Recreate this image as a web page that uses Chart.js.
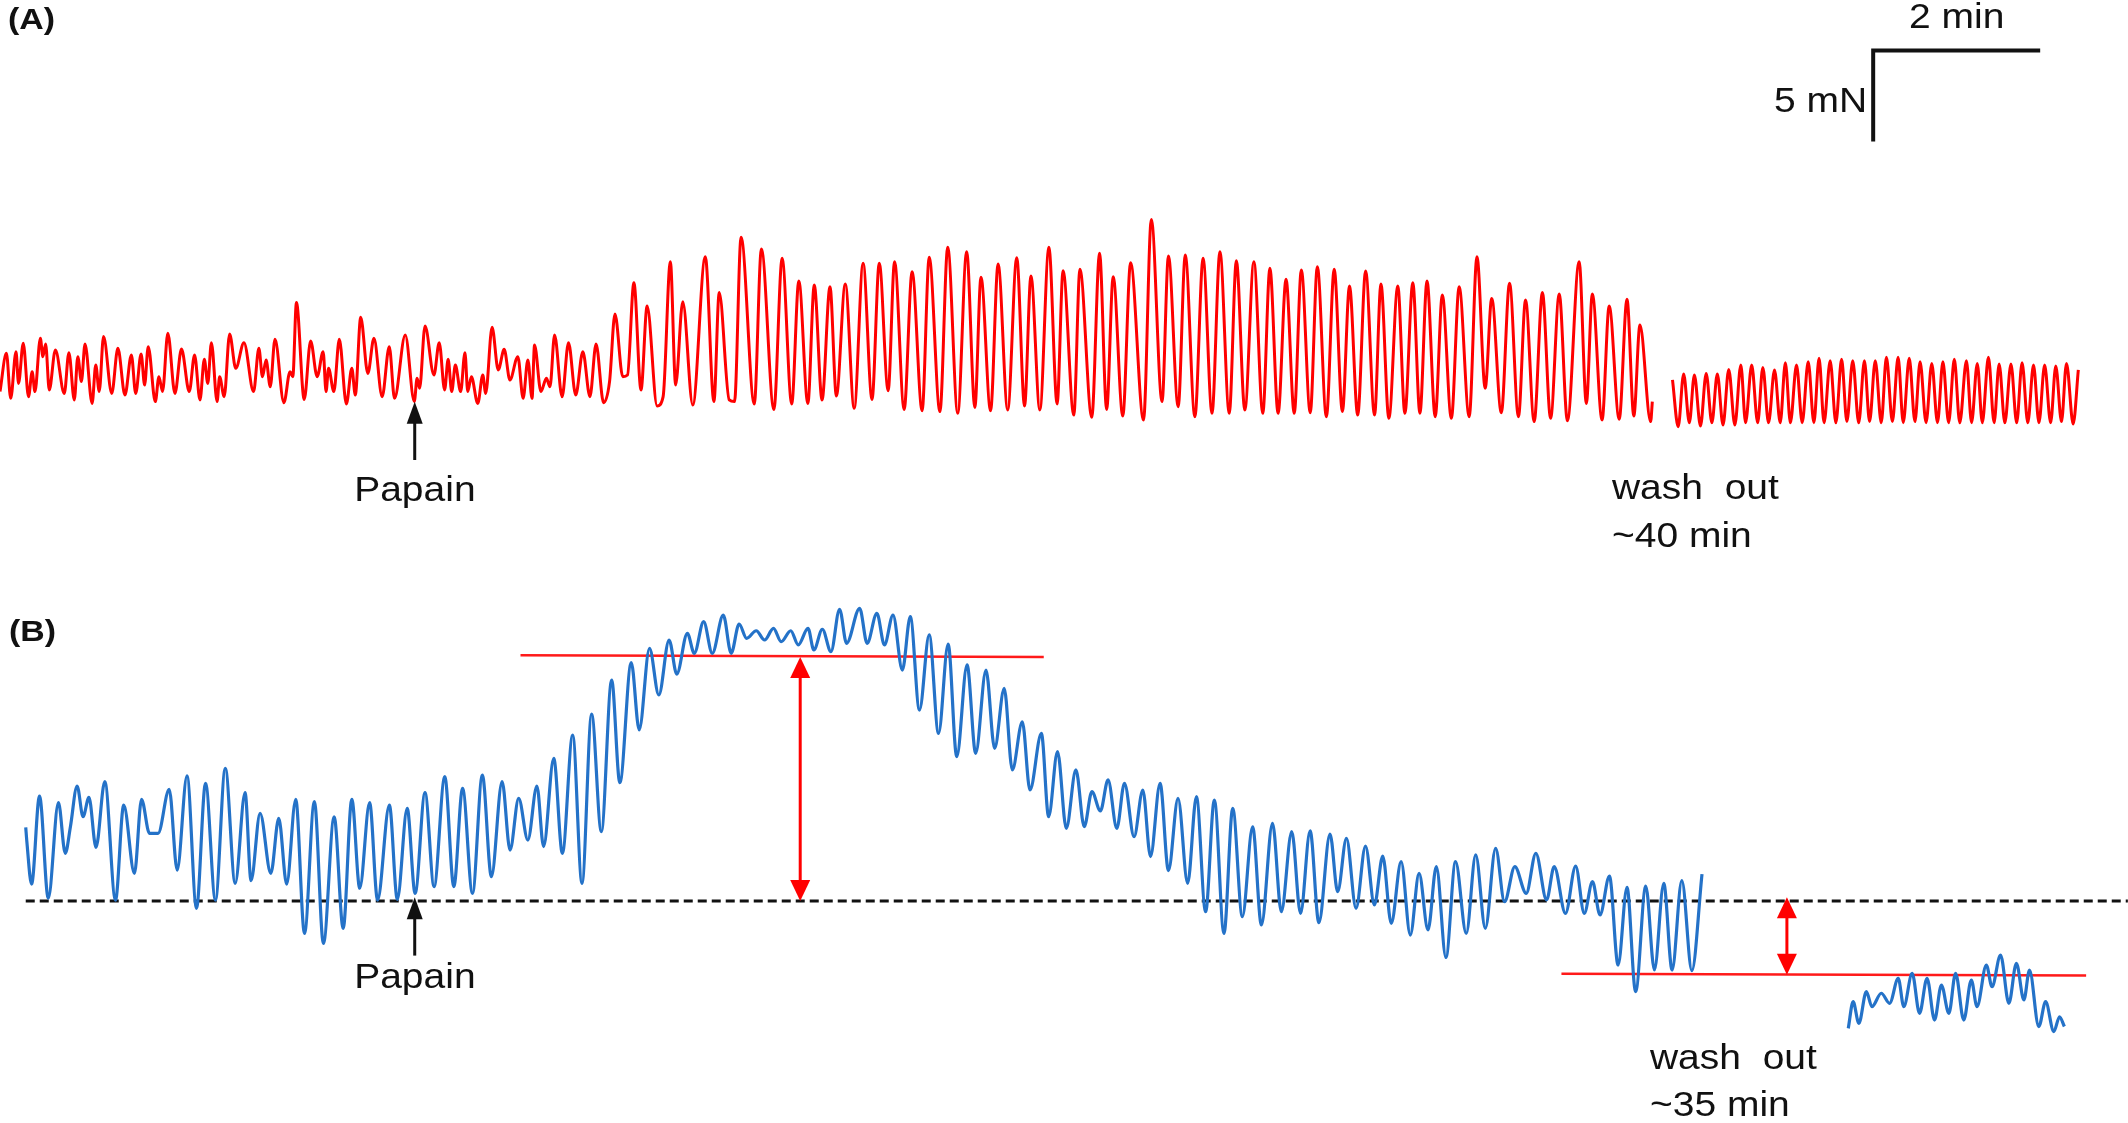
<!DOCTYPE html>
<html>
<head>
<meta charset="utf-8">
<script src="https://cdn.jsdelivr.net/npm/chart.js@4.4.1/dist/chart.umd.min.js"></script>
<style>
	html, body {
		margin: 0;
		padding: 0;
		background: #fff;
	}
	#wrap {
		width: 2128px;
		height: 1123px;
	}
</style>
</head>
<body>
<div id="wrap"><canvas id="fig" width="2128" height="1123"></canvas></div>

<script>
	// force traces, [time (s), force (mN)], read peak by peak off the recording
	const traceA = [
		[0,2.66],[4.6,4.76],[7.7,2.29],[11.5,4.85],[13.3,3.11],[16.7,5.31],[20.5,2.38],[23.1,3.75],[25.1,2.66],[29.0,5.59],
		[30.8,4.58],[32.8,5.27],[35.4,2.75],[39.8,4.95],[46.2,2.56],[49.5,4.80],[53.4,2.20],[55.9,4.58],[58.5,3.21],[61.1,5.27],
		[66.2,2.01],[68.8,4.12],[71.3,2.66],[74.4,5.68],[80.3,2.56],[84.7,5.04],[89.8,2.47],[94.4,4.67],[97.5,2.56],[101.4,4.73],
		[103.9,3.02],[106.5,5.13],[111.6,2.11],[114.2,3.48],[116.8,2.66],[120.6,5.86],[125.7,2.56],[130.4,5.00],[136.0,2.66],[139.8,4.67],
		[143.7,2.20],[146.8,4.43],[149.3,3.11],[151.9,5.35],[156.0,2.11],[157.8,3.48],[161.1,2.38],[165.0,5.82],[169.4,3.94],[175.3,5.35],
		[182.2,2.66],[186.0,5.04],[188.6,3.48],[191.2,4.40],[194.2,2.93],[197.6,5.53],[204.0,2.05],[208.4,3.75],[210.4,3.48],[213.0,7.55],
		[218.6,2.23],[223.2,5.44],[227.9,3.48],[232.2,4.85],[234.3,2.66],[236.1,3.94],[239.9,2.66],[243.8,5.53],[248.9,1.98],[252.8,3.94],
		[255.3,2.47],[259.2,6.74],[264.3,3.66],[268.7,5.59],[274.6,2.38],[279.7,5.13],[283.5,2.29],[291.2,5.77],[297.7,2.11],[299.7,3.39],
		[301.5,2.84],[305.4,6.26],[311.8,3.57],[315.6,5.35],[319.5,2.75],[322.0,4.43],[324.6,2.66],[327.2,4.12],[331.0,2.66],[334.1,4.80],
		[336.1,2.66],[338.7,3.48],[343.3,2.01],[346.9,3.57],[349.0,2.56],[353.6,6.19],[358.0,3.85],[362.3,4.98],[366.4,3.30],[372.1,4.58],
		[375.9,2.29],[379.3,4.40],[382.3,2.29],[384.1,5.22],[388.7,2.66],[392.6,3.39],[395.2,2.93],[398.5,5.77],
		[403.9,2.38],[408.5,5.35],[413.7,2.47],[418.8,4.85],[423.9,2.38],[428.3,5.27],[433.7,2.05],[438.0,3.21],[441.9,6.92],[447.5,3.48],
		[450.9,3.57],[455.5,8.64],[460.6,2.75],[465.0,7.36],[472.2,1.87],[476.5,2.38],[481.7,9.80],[485.5,3.02],[490.6,7.60],[497.8,1.92],
		[506.8,10.07],[513.0,2.11],[516.8,8.10],[524.0,2.20],[527.8,2.11],[532.5,11.14],[542.0,1.98],[547.1,10.49],[556.1,1.68],[562.0,9.98],
		[568.9,1.98],[574.0,8.74],[580.5,2.01],[585.1,8.52],[590.7,2.20],[596.4,8.42],[601.0,2.42],[607.4,8.57],[613.8,1.74],[620.2,9.71],
		[626.6,2.23],[631.8,9.71],[638.2,2.71],[642.8,9.80],[649.7,1.68],[655.4,9.25],[662.6,1.61],[667.7,10.04],[675.4,1.56],[681.0,10.59],
		[688.2,1.47],[694.6,10.35],[700.5,1.79],[704.9,8.94],[711.8,1.61],[717.2,9.67],[724.1,1.65],[730.6,10.02],[736.2,1.87],[740.8,9.01],
		[747.2,1.65],[753.7,10.59],[759.6,1.98],[763.9,9.30],[771.6,1.37],[776.0,9.38],[784.5,1.25],
		[790.1,10.26],[795.2,1.68],[799.9,8.97],[806.8,1.32],[812.4,9.74],[821.7,1.10],[827.3,12.12],[835.0,2.11],[839.6,10.11],[846.6,1.83],
		[851.7,10.16],[858.6,1.28],[864.5,9.98],[870.9,1.47],[876.6,10.35],[883.3,1.47],[888.4,9.85],[894.5,1.65],[901.0,9.80],[907.4,1.47],
		[912.5,9.43],[918.4,1.47],[924.1,8.83],[930.0,1.47],[935.1,9.34],[941.5,1.50],[946.6,9.52],[953.1,1.28],[958.7,9.38],[964.6,1.56],
		[969.7,8.46],[975.6,1.37],[981.3,9.29],[987.7,1.37],[992.3,8.57],[998.0,1.19],[1004.4,8.46],[1009.5,1.47],[1015.2,8.64],[1020.3,1.47],
		[1025.4,8.74],[1031.3,1.28],[1036.4,7.97],[1042.9,1.19],[1048.5,8.42],[1055.7,1.28],[1061.3,10.07],[1067.2,2.84],[1071.9,7.78],[1078.8,1.50],
		[1084.7,8.61],[1091.1,1.28],[1096.2,7.69],[1102.4,1.01],[1108.3,8.10],[1114.2,1.19],[1120.4,8.02],[1126.3,1.06],[1134.7,9.80],[1139.9,2.01],
		[1144.2,8.02],[1151.2,1.10],[1156.3,7.36],[1163.5,1.14],[1169.1,7.73],[1174.0,1.32],[1178.4,6.32],[1186.1,1.01],[1187.3,2.11]
	];

	const traceAWash = [
		[1201.8,3.30],[1205.9,0.73],[1209.8,3.63],[1213.9,0.95],[1217.5,3.57],[1221.9,0.77],[1226.0,3.66],[1230.1,0.95],[1234.0,3.63],[1238.1,0.82],
		[1242.2,3.88],[1246.6,0.82],[1250.9,4.12],[1254.3,0.95],[1258.7,4.12],[1263.0,0.95],[1266.7,3.99],[1270.8,0.95],[1275.1,3.85],[1279.2,0.95],
		[1282.9,4.25],[1286.5,0.95],[1290.9,4.12],[1295.0,0.95],[1299.3,4.30],[1303.4,0.95],[1307.1,4.49],[1310.7,0.95],[1315.1,4.36],[1319.2,0.95],
		[1323.3,4.43],[1327.1,1.01],[1331.3,4.36],[1335.6,0.95],[1339.7,4.36],[1343.4,1.01],[1347.5,4.36],[1351.8,0.95],[1355.5,4.54],[1359.8,1.01],
		[1363.9,4.54],[1367.6,0.95],[1371.9,4.49],[1376.0,1.01],[1379.7,4.30],[1384.0,0.95],[1388.1,4.21],[1392.2,0.95],[1396.1,4.30],[1400.2,0.95],
		[1404.3,4.43],[1408.2,0.95],[1413.0,4.36],[1416.7,0.95],[1420.8,4.21],[1424.4,0.95],[1428.8,4.54],[1432.9,0.95],[1436.5,4.18],[1440.6,0.95],
		[1445.0,4.18],[1449.1,0.95],[1453.0,4.25],[1457.1,0.95],[1461.2,4.12],[1465.1,0.95],[1469.2,4.12],[1473.5,0.95],[1477.2,4.07],[1481.3,1.01],
		[1484.9,4.21],[1489.7,0.88],[1493.4,3.85]
	];

	const traceB = [
		[18.5,4.05],[19.3,3.26],[22.7,0.93],[28.4,5.77],[34.7,0.15],[42.0,5.40],[46.9,2.62],[50.6,4.08],[55.4,6.32],[59.7,4.63],
		[63.9,5.70],[69.0,2.95],[75.3,6.56],[83.0,0.05],[88.9,5.27],[96.6,1.52],[101.7,5.59],[107.4,3.72],[113.6,3.72],[121.6,6.14],
		[127.3,1.70],[134.4,6.87],[141.2,-0.40],[147.7,6.47],[154.8,0.05],[161.9,7.29],[169.0,0.97],[176.1,5.95],[180.4,1.12],[186.9,4.82],
		[194.6,1.52],[200.3,4.54],[206.0,0.93],[212.5,5.59],[218.8,-1.78],[225.9,5.46],[232.4,-2.33],[240.1,4.63],[246.6,-1.50],[252.8,5.59],
		[258.5,0.70],[265.6,5.40],[271.3,0.05],[279.8,5.27],[285.5,0.09],[292.6,5.09],[298.3,0.42],[305.4,5.95],[311.9,0.79],[319.6,6.83],
		[326.1,0.79],[332.4,6.19],[339.5,0.42],[346.6,6.92],[353.1,1.34],[360.8,6.56],[366.5,2.80],[372.7,5.64],[379.3,3.35],[385.8,6.32],
		[390.6,2.99],
		[397.9,7.84],[404.1,2.62],[411.5,9.12],[418.2,0.97],[425.1,10.27],[432.1,3.81],[439.5,12.14],[445.4,6.50],[453.6,13.10],[459.3,9.40],
		[466.7,13.88],[473.4,11.32],[480.8,14.34],[486.3,12.47],[493.9,14.71],[498.9,13.61],[505.6,15.35],[511.8,13.61],[519.7,15.71],[525.4,13.61],
		[531.1,15.22],[536.5,14.43],[543.4,14.85],[549.4,14.34],[555.8,14.98],[561.3,14.25],[568.2,14.85],[573.6,14.07],[580.6,14.98],[584.8,13.79],
		[590.9,14.93],[597.1,13.70],[603.3,16.03],[608.3,14.16],[617.7,16.08],[623.1,14.16],[630.1,15.81],[635.5,14.07],[641.7,15.71],[648.4,12.69],
		[654.1,15.62],[660.7,10.49],[667.7,14.62],[674.4,9.21],[681.3,14.12],[687.5,7.93],[694.9,12.97],[701.1,8.11],[708.5,12.69],[714.7,8.39],
		[721.6,11.68],
		[727.4,7.20],[734.6,9.85],[740.1,6.10],[748.3,9.21],[753.5,4.63],[759.9,8.21],[766.2,3.99],[773.1,7.20],[779.1,4.08],[784.6,6.01],
		[790.7,4.95],[796.2,6.65],[802.5,3.99],[808.0,6.47],[814.9,3.53],[821.2,6.10],[826.7,2.44],[833.6,6.47],[839.6,1.67],[846.5,5.64],
		[853.4,0.97],[859.7,5.73],[866.3,-0.59],[872.6,5.55],[879.5,-1.78],[885.8,5.09],[892.7,-0.86],[900.1,4.08],[906.4,-1.32],[914.4,4.27],
		[920.7,-0.59],[928.2,3.81],[934.5,-0.68],[941.4,3.86],[947.7,-1.19],[955.7,3.68],[961.2,0.51],[967.5,3.44],[974.4,-0.40],[981.2,3.02],
		[987.6,-0.22],[993.6,2.47],[999.7,-1.23],[1006.8,2.16],[1013.4,-1.87],[1019.7,1.52],[1026.1,-1.59],[1032.1,1.89],[1039.0,-3.10],[1045.9,2.16],
		[1053.6,-1.78],[1060.4,2.53],[1067.3,-1.50],[1074.7,2.89],[1081.1,-0.04],[1088.5,1.89],[1096.7,0.42],[1103.6,2.62],[1111.3,0.06],[1116.8,1.89],
		[1124.9,-0.68],[1132.2,1.92],[1138.4,-0.68],[1144.3,1.06],[1149.7,-0.77],[1156.5,1.37],[1162.7,-3.52],[1169.1,0.75],[1175.3,-4.98],[1182.6,0.82],
		[1188.8,-3.79],[1195.5,0.97],[1201.5,-3.79],[1208.5,1.12],[1215.7,-3.83],[1223.0,1.48]
	];

	const traceBWash = [
		[1328.1,-7.00],[1331.6,-5.53],[1335.7,-6.72],[1341.1,-4.98],[1345.1,-5.81],[1351.8,-5.07],[1357.8,-5.62],[1364.0,-4.25],[1368.0,-5.81],[1374.0,-3.97],
		[1379.3,-6.17],[1384.7,-4.25],[1390.1,-6.54],[1395.0,-4.62],[1400.4,-6.17],[1405.2,-3.97],[1411.1,-6.54],[1416.5,-4.34],[1420.6,-5.81],[1427.3,-3.52],
		[1431.4,-4.71],[1437.5,-2.97],[1443.5,-5.62],[1448.9,-3.42],[1454.3,-5.44],[1458.3,-3.79],[1465.0,-6.90],[1469.9,-5.53],[1475.8,-7.18],[1479.9,-6.36],
		[1483.4,-6.90]
	];

	// panel B reference levels (mN) and their time spans (s)
	const baselineB = [[18.5, 0], [1529, 0]];
	const plateauLine = [[374, 13.5], [750, 13.4]];
	const washLine = [[1122, -4.0], [1499, -4.1]];

	// scale bar
	const barTime = 120; // 2 min
	const barForce = 5; // 5 mN
	const barOrigin = [1346, 21.4];

	// double arrows (time, from, to) in panel B
	const redArrows = [
		[575, 0, 13.4],
		[1284, 0.2, -4.05],
	];
	// papain marks: axis, time, tail, tip
	const papain = [
		["yA", 298, -1.1, 2.1],
		["yB", 298, -3.0, 0.2],
	];
	const notes = [
		["yA", 254.5, -3.33, "Papain"],
		["yA", 1158.3, -3.24, "wash  out"],
		["yA", 1158.3, -5.88, "~40 min"],
		["yB", 254.5, -4.78, "Papain"],
		["yB", 1185.6, -9.23, "wash  out"],
		["yB", 1185.6, -11.81, "~35 min"],
	];

	const W = 2128;
	const H = 1123;
	const PX_PER_S = 83.5 / 60;
	const PX_PER_MN = 18.2;
	const zeroA = 440;
	const zeroB = 901;
	const STRETCH = 1.13;
	const FONT = '34.5px "Liberation Sans", Arial, sans-serif';
	const BOLD = 'bold 30px "Liberation Sans", Arial, sans-serif';

	function label(ctx, text, px, py, font, align) {
		ctx.save();
		ctx.font = font;
		ctx.fillStyle = "#111";
		ctx.textAlign = align;
		ctx.textBaseline = "alphabetic";
		ctx.translate(px, py);
		ctx.scale(STRETCH, 1);
		ctx.fillText(text, 0, 0);
		ctx.restore();
	}

	function head(ctx, px, tipY, dir, len, half) {
		ctx.beginPath();
		ctx.moveTo(px, tipY);
		ctx.lineTo(px - half, tipY - dir * len);
		ctx.lineTo(px + half, tipY - dir * len);
		ctx.closePath();
		ctx.fill();
	}

	const annotate = {
		id: "annotate",
		afterDatasetsDraw(chart) {
			const { ctx, scales } = chart;
			const x = scales.x;

			// red double arrows
			ctx.save();
			ctx.strokeStyle = "#ff0000";
			ctx.fillStyle = "#ff0000";
			ctx.lineWidth = 3;
			redArrows.forEach(([t, a, b]) => {
				const px = x.getPixelForValue(t);
				const ya = scales.yB.getPixelForValue(a);
				const yb = scales.yB.getPixelForValue(b);
				const up = Math.min(ya, yb);
				const down = Math.max(ya, yb);
				ctx.beginPath();
				ctx.moveTo(px, up + 18);
				ctx.lineTo(px, down - 18);
				ctx.stroke();
				head(ctx, px, up, -1, 21, 10);
				head(ctx, px, down, 1, 21, 10);
			});
			ctx.restore();

			// papain arrows
			ctx.save();
			ctx.strokeStyle = "#111";
			ctx.fillStyle = "#111";
			ctx.lineWidth = 3;
			papain.forEach(([axis, t, tail, tip]) => {
				const px = x.getPixelForValue(t);
				const y0 = scales[axis].getPixelForValue(tail);
				const y1 = scales[axis].getPixelForValue(tip);
				ctx.beginPath();
				ctx.moveTo(px, y0);
				ctx.lineTo(px, y1 + 18);
				ctx.stroke();
				head(ctx, px, y1, -1, 22, 8);
			});
			ctx.restore();

			notes.forEach(([axis, t, v, text]) => {
				label(ctx, text, x.getPixelForValue(t), scales[axis].getPixelForValue(v), FONT, "left");
			});

			// scale bar captions
			const bx0 = x.getPixelForValue(barOrigin[0]);
			const bx1 = x.getPixelForValue(barOrigin[0] + barTime);
			const by0 = scales.yA.getPixelForValue(barOrigin[1]);
			const by1 = scales.yA.getPixelForValue(barOrigin[1] - barForce);
			label(ctx, "2 min", (bx0 + bx1) / 2, by0 - 23, FONT, "center");
			label(ctx, "5 mN", bx0 - 6, (by0 + by1) / 2 + 16, FONT, "right");

			// panel letters
			label(ctx, "(A)", 8, 29, BOLD, "left");
			label(ctx, "(B)", 9, 641, BOLD, "left");
		},
	};

	const traceStyle = {
		pointRadius: 0,
		fill: false,
		cubicInterpolationMode: "monotone",
	};

	const ctx = document.getElementById("fig").getContext("2d");
	const fig = new Chart(ctx, {
		type: "line",
		data: {
			datasets: [
				{ ...traceStyle, data: traceA, yAxisID: "yA", borderColor: "#ff0000", borderWidth: 3 },
				{ ...traceStyle, data: traceAWash, yAxisID: "yA", borderColor: "#ff0000", borderWidth: 3 },
				{ ...traceStyle, data: traceB, yAxisID: "yB", borderColor: "#2472c8", borderWidth: 3.2 },
				{ ...traceStyle, data: traceBWash, yAxisID: "yB", borderColor: "#2472c8", borderWidth: 3.2 },
				{ data: baselineB, yAxisID: "yB", borderColor: "#111", borderWidth: 3, borderDash: [9, 5], pointRadius: 0 },
				{ data: plateauLine, yAxisID: "yB", borderColor: "#ff1a1a", borderWidth: 2.5, pointRadius: 0 },
				{ data: washLine, yAxisID: "yB", borderColor: "#ff1a1a", borderWidth: 2.5, pointRadius: 0 },
				{
					data: [
						[barOrigin[0] + barTime, barOrigin[1]],
						[barOrigin[0], barOrigin[1]],
						[barOrigin[0], barOrigin[1] - barForce],
					],
					yAxisID: "yA",
					borderColor: "#111",
					borderWidth: 4,
					borderJoinStyle: "miter",
					pointRadius: 0,
				},
			],
		},
		options: {
			responsive: false,
			animation: false,
			devicePixelRatio: 1,
			layout: { padding: 0 },
			plugins: {
				legend: { display: false },
				tooltip: { enabled: false },
			},
			scales: {
				x: { type: "linear", min: 0, max: W / PX_PER_S, display: false },
				yA: {
					type: "linear",
					position: "left",
					max: zeroA / PX_PER_MN,
					min: zeroA / PX_PER_MN - H / PX_PER_MN,
					display: false,
				},
				yB: {
					type: "linear",
					position: "left",
					max: zeroB / PX_PER_MN,
					min: zeroB / PX_PER_MN - H / PX_PER_MN,
					display: false,
				},
			},
		},
		plugins: [annotate],
	});
</script>
</body>
</html>
